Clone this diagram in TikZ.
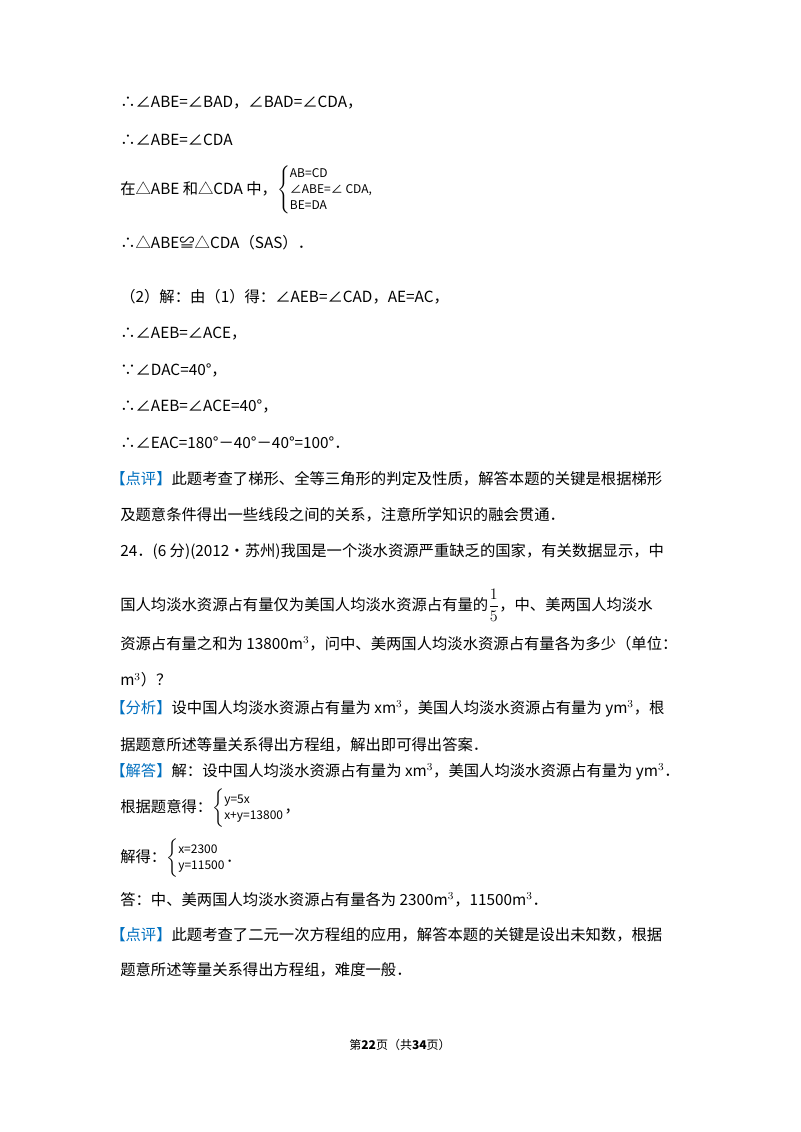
\documentclass[tikz,border=0pt]{standalone}
\usepackage{fontspec}
\setmainfont{Noto Sans CJK SC}
\newfontfamily\lat{Carlito}
\usepackage{amsmath}
\definecolor{kblue}{HTML}{0070C0}
\newcommand{\kw}[1]{{\color{kblue}【#1】}}
\begin{document}
\begin{tikzpicture}[x=0.75pt,y=-0.75pt,
  ln/.style={anchor=west,inner sep=0pt,font=\fontsize{11.5pt}{14pt}\selectfont}]
\useasboundingbox (0,0) rectangle (800,1132);
\fill[white] (0,0) rectangle (800,1132);
\node[ln] (l1) at (120,103) {∴∠ABE=∠BAD，∠BAD=∠CDA，};
\node[ln] (l2) at (120,140) {∴∠ABE=∠CDA};
\node[ln] (l3) at (120,190) {在△ABE 和△CDA 中，$\left\{\begin{array}{@{}l@{}}\text{\small AB=CD}\\[-2pt]\text{\small ∠ABE=∠ CDA,}\\[-2pt]\text{\small BE=DA}\end{array}\right.$};
\node[ln] (l4) at (120,243) {∴△ABE≌△CDA（SAS）．};
\node[ln] (l5) at (120,297) {（2）解：由（1）得：∠AEB=∠CAD，AE=AC，};
\node[ln] (l6) at (120,334) {∴∠AEB=∠ACE，};
\node[ln] (l7) at (120,370) {∵∠DAC=40°，};
\node[ln] (l8) at (120,406) {∴∠AEB=∠ACE=40°，};
\node[ln] (l9) at (120,443) {∴∠EAC=180°－40°－40°=100°．};
\node[ln] (l10) at (110,479) {\kw{点评}此题考查了梯形、全等三角形的判定及性质，解答本题的关键是根据梯形};
\node[ln] (l11) at (120,515) {及题意条件得出一些线段之间的关系，注意所学知识的融会贯通．};
\node[ln] (l12) at (120,552) {24．(6 分)(2012•苏州)我国是一个淡水资源严重缺乏的国家，有关数据显示，中};
\node[ln] (l13) at (120,605) {国人均淡水资源占有量仅为美国人均淡水资源占有量的$\dfrac{1}{5}$，中、美两国人均淡水};
\node[ln] (l14) at (120,644) {资源占有量之和为 13800m$^3$，问中、美两国人均淡水资源占有量各为多少（单位：};
\node[ln] (l15) at (120,680) {m$^3$）？};
\node[ln] (l16) at (110,709) {\kw{分析}设中国人均淡水资源占有量为 xm$^3$，美国人均淡水资源占有量为 ym$^3$，根};
\node[ln] (l17) at (120,745) {据题意所述等量关系得出方程组，解出即可得出答案．};
\node[ln] (l18) at (110,772) {\kw{解答}解：设中国人均淡水资源占有量为 xm$^3$，美国人均淡水资源占有量为 ym$^3$．};
\node[ln] (l19) at (120,808) {根据题意得：$\left\{\begin{array}{@{}l@{}}\text{\small y=5x}\\[-2pt]\text{\small x+y=13800}\end{array}\right.$，};
\node[ln] (l20) at (120,858) {解得：$\left\{\begin{array}{@{}l@{}}\text{\small x=2300}\\[-2pt]\text{\small y=11500}\end{array}\right.$．};
\node[ln] (l21) at (120,900) {答：中、美两国人均淡水资源占有量各为 2300m$^3$，11500m$^3$．};
\node[ln] (l22) at (110,935) {\kw{点评}此题考查了二元一次方程组的应用，解答本题的关键是设出未知数，根据};
\node[ln] (l23) at (120,970) {题意所述等量关系得出方程组，难度一般．};
\node[anchor=center,inner sep=0pt,font=\fontsize{9pt}{11pt}\selectfont] (ft) at (400,1045) {第\textbf{22}页（共\textbf{34}页）};
\end{tikzpicture}
\end{document}
